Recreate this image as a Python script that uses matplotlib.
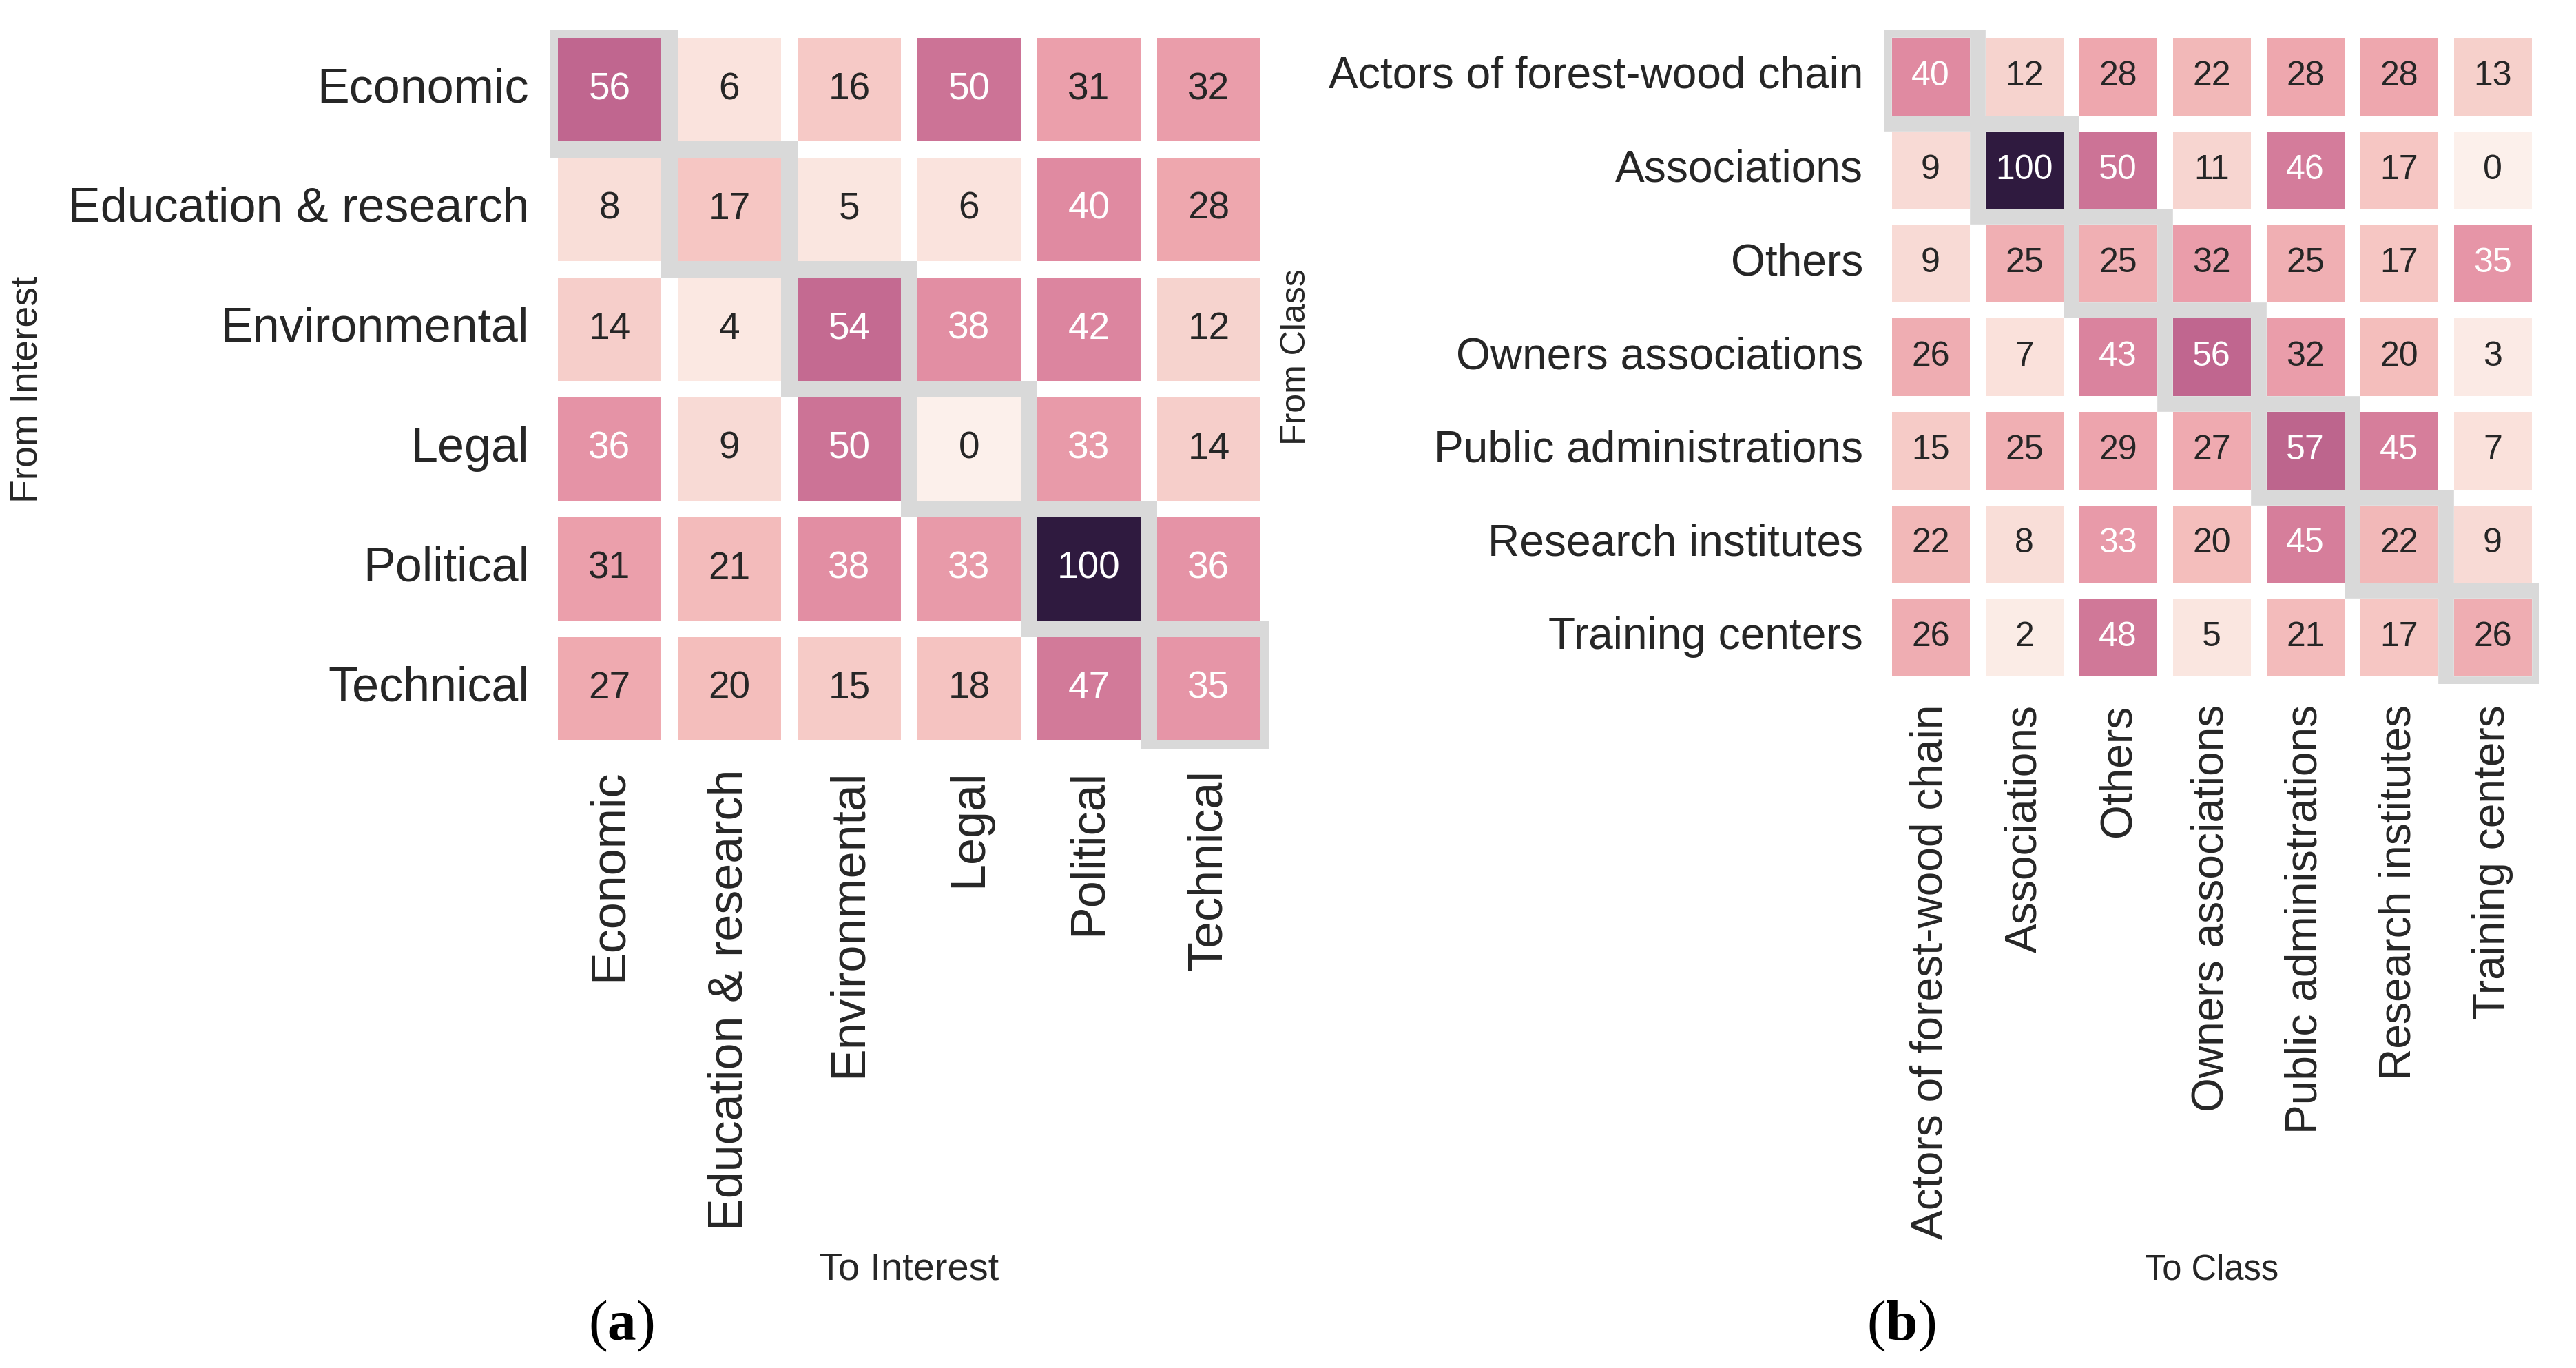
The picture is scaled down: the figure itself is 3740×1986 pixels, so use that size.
import numpy as np
import matplotlib
matplotlib.use('Agg')
import matplotlib.pyplot as plt
import seaborn as sns
from matplotlib.colors import LinearSegmentedColormap
from matplotlib.patches import Rectangle

# Interest -> Interest flows
interest_labels = ['Economic', 'Education & research', 'Environmental', 'Legal', 'Political', 'Technical']
interest_values = np.array([
    [56, 6, 16, 50, 31, 32],
    [8, 17, 5, 6, 40, 28],
    [14, 4, 54, 38, 42, 12],
    [36, 9, 50, 0, 33, 14],
    [31, 21, 38, 33, 100, 36],
    [27, 20, 15, 18, 47, 35],
])

# Class -> Class flows
class_labels = ['Actors of forest-wood chain', 'Associations', 'Others', 'Owners associations',
                'Public administrations', 'Research institutes', 'Training centers']
class_values = np.array([
    [40, 12, 28, 22, 28, 28, 13],
    [9, 100, 50, 11, 46, 17, 0],
    [9, 25, 25, 32, 25, 17, 35],
    [26, 7, 43, 56, 32, 20, 3],
    [15, 25, 29, 27, 57, 45, 7],
    [22, 8, 33, 20, 45, 22, 9],
    [26, 2, 48, 5, 21, 17, 26],
])

sns.set_style('white')
plt.rcParams['font.family'] = ['Liberation Sans', 'DejaVu Sans']
plt.rcParams['mathtext.fontset'] = 'custom'
plt.rcParams['mathtext.rm'] = 'Liberation Serif'
plt.rcParams['mathtext.bf'] = 'Liberation Serif:bold'

W, H, DPI = 3740, 1986, 240
TXT = '#262626'

# pink -> purple ramp (position on 0..1, colour)
cmap = LinearSegmentedColormap.from_list('pinkpurple', [
    (0.00, '#fcf0eb'), (0.06, '#fae3dd'), (0.12, '#f6d2cd'), (0.17, '#f6c6c3'),
    (0.22, '#f2b8b8'), (0.28, '#eea7ae'), (0.35, '#e695a7'), (0.40, '#e08aa1'),
    (0.50, '#cc7396'), (0.56, '#c0668f'), (1.00, '#2f1a3f'),
])

fig = plt.figure(figsize=(W / DPI, H / DPI), dpi=DPI)
ax1 = fig.add_axes([798 / W, 1 - 1087 / H, 1044 / W, 1044 / H])
ax2 = fig.add_axes([2735 / W, 1 - 993 / H, 952 / W, 950 / H])


def draw(ax, values, labels, tick_fs, annot_fs, lw):
    n = len(labels)
    sns.heatmap(values, ax=ax, cmap=cmap, vmin=0, vmax=100, annot=True, fmt='d',
                cbar=False, linewidths=lw, linecolor='white',
                xticklabels=labels, yticklabels=labels,
                annot_kws={'fontsize': annot_fs})
    for t in ax.texts:
        t.set_color('white' if int(t.get_text()) >= 33 else TXT)
    # highlight the diagonal
    for i in range(n):
        ax.add_patch(Rectangle((i, i), 1, 1, fill=False, edgecolor='#d9d9d9', lw=lw))
    ax.tick_params(length=0, pad=9, labelsize=tick_fs, labelcolor=TXT)
    ax.set_xticklabels(labels, rotation=90)
    ax.set_yticklabels(labels, rotation=0)


draw(ax1, interest_values, interest_labels, 21, 16.5, 7.2)
draw(ax2, class_values, class_labels, 19.2, 15, 6.8)

# axis labels
ax1.set_xlabel('To Interest', fontsize=16.8, color=TXT)
ax1.xaxis.set_label_coords(1320 / W, 1 - 1857 / H, transform=fig.transFigure)
ax1.xaxis.label.set_va('baseline')
ax1.set_ylabel('From Interest', fontsize=16.6, color=TXT)
ax1.yaxis.set_label_coords(40 / W, 1 - 565 / H, transform=fig.transFigure)
ax1.yaxis.label.set_va('center')

ax2.set_xlabel('To Class', fontsize=15.2, color=TXT)
ax2.xaxis.set_label_coords(3211 / W, 1 - 1857 / H, transform=fig.transFigure)
ax2.xaxis.label.set_va('baseline')
ax2.set_ylabel('From Class', fontsize=15, color=TXT)
ax2.yaxis.set_label_coords(1882 / W, 1 - 518 / H, transform=fig.transFigure)
ax2.yaxis.label.set_va('center')

# panel letters
fig.text(902 / W, 1 - 1945 / H, r'($\mathbf{a}$)', family='Liberation Serif', fontsize=25,
         ha='center', va='baseline', color='black')
fig.text(2760 / W, 1 - 1945 / H, r'($\mathbf{b}$)', family='Liberation Serif', fontsize=25,
         ha='center', va='baseline', color='black')

fig.savefig('out.png', dpi=DPI)
